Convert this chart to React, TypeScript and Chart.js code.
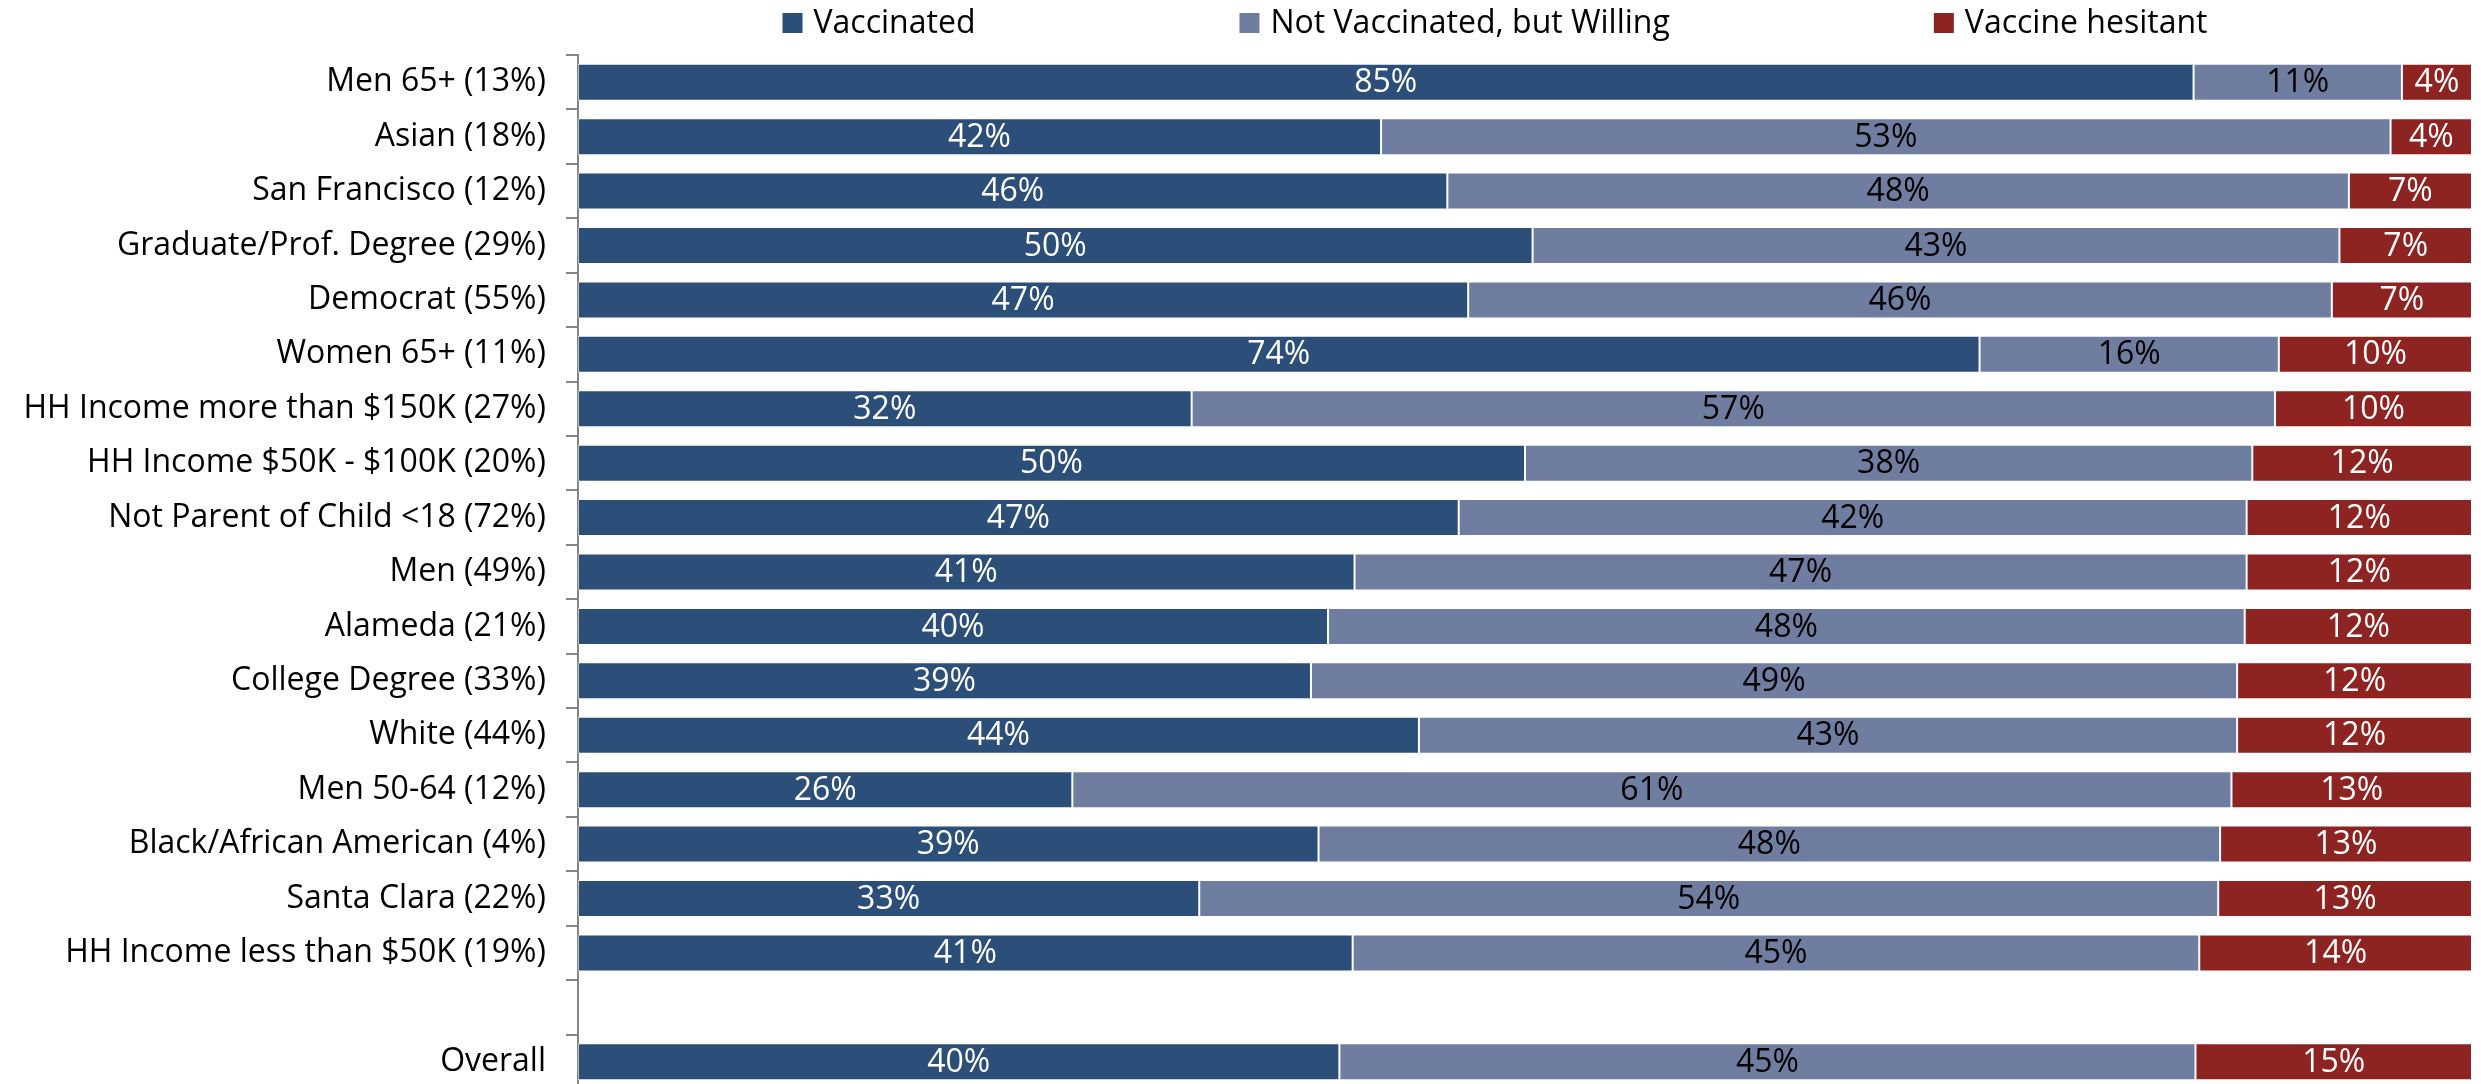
import React, { useEffect, useRef } from 'react';
import { Chart, registerables } from 'chart.js';
Chart.register(...registerables);

const categories = [
  'Men 65+ (13%)',
  'Asian (18%)',
  'San Francisco (12%)',
  'Graduate/Prof. Degree (29%)',
  'Democrat (55%)',
  'Women 65+ (11%)',
  'HH Income more than $150K (27%)',
  'HH Income $50K - $100K (20%)',
  'Not Parent of Child <18 (72%)',
  'Men (49%)',
  'Alameda (21%)',
  'College Degree (33%)',
  'White (44%)',
  'Men 50-64 (12%)',
  'Black/African American (4%)',
  'Santa Clara (22%)',
  'HH Income less than $50K (19%)',
  '',
  'Overall',
];

const vaccinated = [85.3, 42.4, 45.9, 50.4, 47.0, 74.0, 32.4, 50.0, 46.5, 41.0, 39.6, 38.7, 44.4, 26.1, 39.1, 32.8, 40.9, null, 40.2];
const willing = [11.0, 53.3, 47.6, 42.6, 45.6, 15.8, 57.2, 38.4, 41.6, 47.1, 48.4, 48.9, 43.2, 61.2, 47.6, 53.8, 44.7, null, 45.2];
const hesitant = [3.7, 4.3, 6.5, 7.0, 7.4, 10.2, 10.4, 11.6, 11.9, 11.9, 12.0, 12.4, 12.4, 12.7, 13.3, 13.4, 14.4, null, 14.6];

const seriesNames = ['Vaccinated', 'Not Vaccinated, but Willing', 'Vaccine hesitant'];
const seriesColors = ['#2B4F78', '#6F7DA0', '#8E2422'];
const labelColors = ['#FFFFFF', '#000000', '#FFFFFF'];

const FONT = '"Open Sans", "Noto Sans", sans-serif';
const FONT_SIZE = 32;

const dataLabelPlugin = {
  id: 'dataLabels',
  afterDatasetsDraw(chart: any) {
    const ctx = chart.ctx;
    ctx.save();
    ctx.font = `${FONT_SIZE}px ${FONT}`;
    ctx.textAlign = 'center';
    ctx.textBaseline = 'middle';
    chart.data.datasets.forEach((ds: any, i: number) => {
      const meta = chart.getDatasetMeta(i);
      meta.data.forEach((el: any, j: number) => {
        const v = ds.data[j];
        if (v === null || v === undefined) return;
        const x = (el.x + el.base) / 2;
        ctx.fillStyle = labelColors[i];
        ctx.fillText(`${Math.round(v)}%`, x, el.y + 1);
      });
    });
    ctx.restore();
  },
};

const legendPlugin = {
  id: 'customLegend',
  afterDraw(chart: any) {
    const ctx = chart.ctx;
    ctx.save();
    ctx.font = `${FONT_SIZE}px ${FONT}`;
    ctx.textBaseline = 'middle';
    ctx.textAlign = 'left';
    const box = 20;
    const boxGap = 11;
    const itemGap = 264;
    const widths = seriesNames.map((n) => box + boxGap + ctx.measureText(n).width);
    const total = widths.reduce((a, b) => a + b, 0) + itemGap * (widths.length - 1);
    const centerX = 1487;
    const cy = 15;
    let x = centerX - total / 2;
    seriesNames.forEach((n, i) => {
      ctx.fillStyle = seriesColors[i];
      ctx.fillRect(x, cy - box / 2, box, box);
      ctx.fillStyle = '#000000';
      ctx.fillText(n, x + box + boxGap, cy + 1);
      x += widths[i] + itemGap;
    });
    ctx.restore();
  },
};

export default function App() {
  const ref = useRef<HTMLCanvasElement>(null);
  useEffect(() => {
    document.body.style.overflow = 'hidden';
    const canvas = ref.current;
    if (!canvas) return;
    const values = [vaccinated, willing, hesitant];
    const chart = new Chart(canvas, {
      type: 'bar',
      data: {
        labels: categories,
        datasets: seriesNames.map((name, i) => ({
          label: name,
          data: values[i] as any,
          backgroundColor: seriesColors[i],
          borderColor: 'rgba(255,255,255,0.45)',
          borderWidth: 1,
          borderSkipped: false,
          barPercentage: 0.68,
          categoryPercentage: 1,
        })),
      },
      options: {
        indexAxis: 'y',
        responsive: false,
        animation: false,
        devicePixelRatio: 1,
        layout: { padding: { top: 47, bottom: 1, left: 0, right: 1 } },
        plugins: {
          legend: { display: false },
          tooltip: { enabled: false },
          title: { display: false },
        },
        scales: {
          x: {
            type: 'linear',
            stacked: true,
            min: 0,
            max: 100,
            display: false,
          },
          y: {
            type: 'category',
            stacked: true,
            offset: true,
            afterFit: (s: any) => {
              s.width = 570;
              s.paddingTop = 0;
              s.paddingBottom = 0;
            },
            grid: {
              display: true,
              offset: true,
              drawOnChartArea: false,
              drawTicks: true,
              tickLength: 12,
              color: '#868686',
              lineWidth: 2,
            },
            border: { display: true, color: '#868686', width: 2 },
            ticks: {
              color: '#000000',
              padding: 20,
              autoSkip: false,
              font: { family: FONT, size: FONT_SIZE },
            },
          },
        },
      },
      plugins: [dataLabelPlugin, legendPlugin],
    });
    return () => chart.destroy();
  }, []);
  return (
    <div style={{ width: 2465, height: 1082 }}>
      <canvas ref={ref} width={2465} height={1082} style={{ display: 'block' }} />
    </div>
  );
}
